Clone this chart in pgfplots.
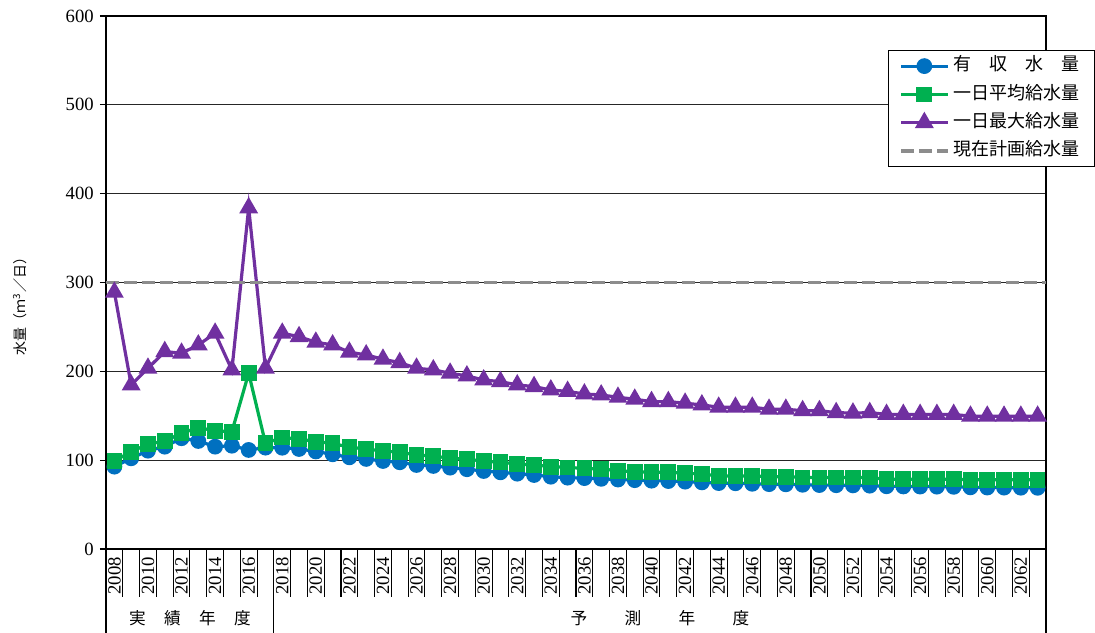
\documentclass[border=0pt]{standalone}
\usepackage{fontspec}
\setmainfont{Liberation Serif}
\newfontfamily\jp{Noto Sans CJK JP}
\usepackage{pgfplots}
\usepackage{pgfplotstable}
\pgfplotsset{compat=1.18}

\definecolor{cblue}{HTML}{0070C0}
\definecolor{cgreen}{HTML}{00B050}
\definecolor{cpurple}{HTML}{7030A0}
\definecolor{cgray}{HTML}{8C8C8C}

% idx = year - 2008; revenue water, daily average supply, daily maximum supply (m3/day)
\pgfplotstableread{
idx blue green purple
0 92.7 99.1 289
1 102.1 109.6 184.7
2 110.7 117.9 203.5
3 115.2 121.6 222.2
4 124.7 130.3 220.4
5 121.6 136.6 229.7
6 115.2 133.2 242.9
7 116.3 132.1 201.6
8 111.5 197.9 384
9 114.1 119.0 203.5
10 114.0 125.5 242.9
11 112.6 123.9 239.0
12 109.8 120.8 232.8
13 106.6 119.0 229.7
14 103.2 114.5 221.5
15 101.4 112.6 218.5
16 99.1 110.4 213.6
17 97.6 108.9 209.8
18 94.6 105.9 203.5
19 93.5 104.7 201.6
20 91.6 102.1 197.9
21 89.8 101.0 194.8
22 87.8 99.1 190.3
23 86.3 97.6 188.4
24 84.8 95.7 184.7
25 83.3 94.6 182.8
26 81.4 92.7 179.0
27 80.3 91.8 177.4
28 79.8 90.8 174.5
29 79.0 90.0 173.4
30 78.2 88.2 170.8
31 77.5 87.0 168.6
32 76.9 86.3 165.9
33 76.5 86.3 165.9
34 75.8 85.2 164.1
35 75.0 84.5 162.2
36 74.2 82.2 159.6
37 74.0 82.2 159.6
38 73.4 82.2 159.6
39 73.0 81.4 157.3
40 72.8 81.4 157.3
41 72.3 80.6 155.7
42 72.0 80.6 155.7
43 71.8 80.6 153.5
44 71.6 80.4 153.0
45 71.3 80.4 153.5
46 70.6 78.5 151.5
47 70.4 78.5 151.5
48 70.3 78.5 151.5
49 70.2 78.5 151.5
50 70.0 78.5 151.5
51 69.4 78.0 149.5
52 69.2 78.0 149.5
53 69.1 78.0 149.5
54 69.0 78.0 149.5
55 68.9 78.0 149.5
}\water

\begin{document}
\begin{tikzpicture}
\path[use as bounding box] (-79.5pt,-62.25pt) rectangle (741.75pt,411.75pt);
\begin{axis}[
  at={(0,0)}, anchor=south west,
  scale only axis, width=705pt, height=399.75pt,
  xmin=-0.5, xmax=55.5, ymin=0, ymax=600,
  clip=false,
  /pgf/number format/assume math mode=true,
  ytick={0,100,...,600},
  ymajorgrids,
  grid style={black!85, line width=0.8pt},
  axis line style={black, line width=0.9pt},
  tick align=outside,
  ytick pos=left, xtick pos=left,
  major tick length=4.5pt,
  tick style={black, line width=0.8pt},
  yticklabel style={font=\fontsize{14}{14}\selectfont, inner sep=1pt, xshift=-3.5pt},
  xtick={0,2,...,54},
  xticklabels={2008,2010,2012,2014,2016,2018,2020,2022,2024,2026,2028,2030,
    2032,2034,2036,2038,2040,2042,2044,2046,2048,2050,2052,2054,2056,2058,2060,2062},
  x tick style={draw=none},
  xticklabel style={rotate=90, anchor=east, inner sep=1pt, xshift=-0.5pt,
    font=\fontsize{14}{14}\selectfont},
  legend cell align=left,
  legend image code/.code={
    \draw[mark repeat=2,mark phase=2,#1]
      plot coordinates {(0pt,0pt) (17.5pt,0pt) (35pt,0pt)};},
  legend style={at={(rel axis cs:0.832,0.936)}, anchor=north west,
    draw=black, line width=0.8pt, fill=white,
    font=\jp\fontsize{13.5}{13.5}\selectfont,
    inner xsep=8pt, inner ysep=1pt, row sep=0pt,
    nodes={inner xsep=3pt, inner ysep=3.6pt, text height=10.5pt, text depth=3.5pt}},
]
\addplot[cblue, line width=2.4pt, mark=*, mark size=4.7pt, mark options={solid}]
  table[x=idx, y=blue]{\water};
\addlegendentry{有\hspace{1em}収\hspace{1em}水\hspace{1em}量}
\addplot[cgreen, line width=2.4pt, mark=square*, mark size=4.7pt, mark options={solid}]
  table[x=idx, y=green]{\water};
\addlegendentry{一日平均給水量}
\addplot[cpurple, line width=2.4pt, mark=triangle*, mark size=5.8pt, mark options={solid}]
  table[x=idx, y=purple]{\water};
\addlegendentry{一日最大給水量}
\addplot[cgray, line width=2.6pt, dash pattern=on 9.75pt off 3.75pt]
  coordinates {(-0.5,300) (55.5,300)};
\addlegendentry{現在計画給水量}

% year cell dividers below the axis
\pgfplotsinvokeforeach{0,...,56}{
  \draw[black, line width=0.8pt] (axis cs:#1-0.5,0) -- ++(0pt,-36pt);
}
% group separators and group captions
\draw[black, line width=0.8pt] (axis cs:-0.5,0) -- ++(0pt,-70pt);
\draw[black, line width=0.8pt] (axis cs:9.5,0) -- ++(0pt,-70pt);
\draw[black, line width=0.8pt] (axis cs:55.5,0) -- ++(0pt,-70pt);
\node[font=\jp\fontsize{12.5}{12.5}\selectfont] at (axis cs:4.5,0) [yshift=-51.75pt]
  {実\hspace{13.75pt}績\hspace{13.75pt}年\hspace{13.75pt}度};
\node[font=\jp\fontsize{12.5}{12.5}\selectfont] at (axis cs:32.5,0) [yshift=-51.75pt]
  {予\hspace{28pt}測\hspace{28pt}年\hspace{28pt}度};
\end{axis}
\node[rotate=90, font=\jp\fontsize{10.5}{10.5}\selectfont] at (-64.5pt,184.5pt)
  {水量（ｍ\textsuperscript{3}／日）};
\end{tikzpicture}
\end{document}
